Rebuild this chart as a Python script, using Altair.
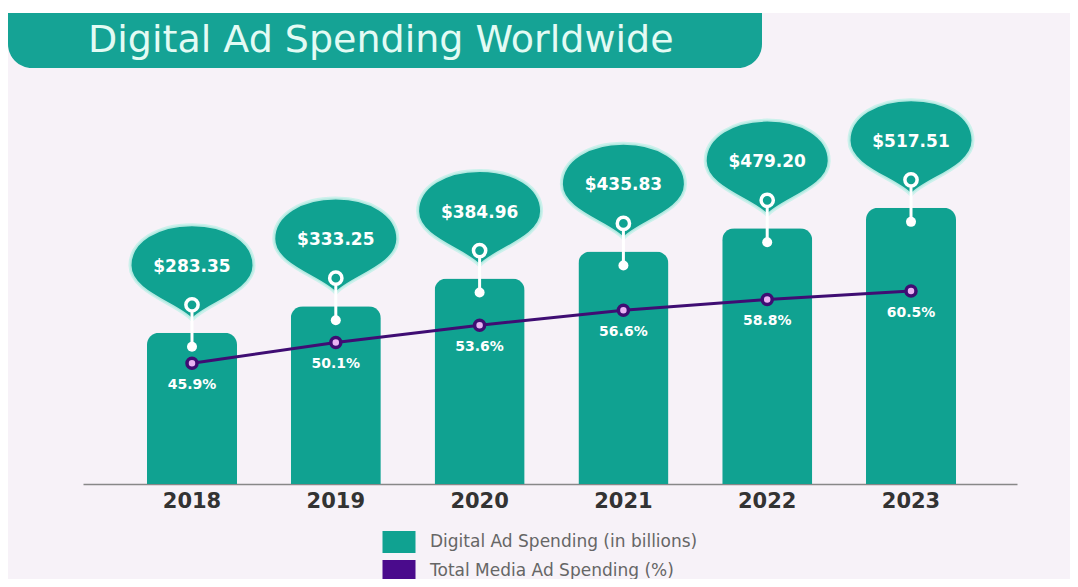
import altair as alt
import pandas as pd

years = ["2018", "2019", "2020", "2021", "2022", "2023"]
spend = [283.35, 333.25, 384.96, 435.83, 479.20, 517.51]
share = [45.9, 50.1, 53.6, 56.6, 58.8, 60.5]
series_names = ["Digital Ad Spending (in billions)", "Total Media Ad Spending (%)"]
title_text = "Digital Ad Spending Worldwide"

TEAL = "#10a291"
PURPLE = "#3f0d73"
BG = "#f7f2f8"

df = pd.DataFrame({
    "year": years,
    "spend": spend,
    "share": share,
    "series": [series_names[0]] * len(years),
})
title_df = pd.DataFrame({"t": [title_text]})

X = alt.X(
    "year:N",
    sort=years,
    scale=alt.Scale(paddingInner=0.374, paddingOuter=0.4345, align=0.512),
    axis=alt.Axis(
        title=None, labelAngle=0, labelFont="DejaVu Sans", labelFontWeight="bold",
        labelFontSize=21, labelColor="#333333", ticks=False, domainColor="#888888",
        domainWidth=1.5, labelPadding=6, grid=False,
    ),
)
YS = alt.Y("spend:Q", scale=alt.Scale(domain=[0, 892], nice=False, zero=True), axis=None)
YP = alt.Y("share:Q", scale=alt.Scale(domain=[21.5, 117.7], nice=False, zero=False), axis=None)

balloon_path = ("M0,0.86 C-0.22,0.6 -1,0.42 -1,-0.02 C-1,-0.42 -0.55,-0.68 0,-0.68 "
                "C0.55,-0.68 1,-0.42 1,-0.02 C1,0.42 0.22,0.6 0,0.86 Z")

bars = alt.Chart().mark_bar(cornerRadiusTopLeft=12, cornerRadiusTopRight=12).encode(
    y=YS,
    color=alt.Color(
        "series:N",
        scale=alt.Scale(domain=series_names, range=[TEAL, "#4a0b8c"]),
        legend=alt.Legend(
            orient="none", legendX=305, legendY=523, direction="vertical", title=None,
            symbolType="M-1.5,-1H1.5V1H-1.5Z", symbolSize=484, symbolStrokeWidth=0,
            symbolOpacity=1, labelFont="DejaVu Sans", labelFontSize=17,
            labelColor="#666666", labelOffset=20, rowPadding=7, padding=0,
            labelLimit=0,
        ),
    ),
)
balloon = alt.Chart().mark_point(
    shape=balloon_path, size=15376, filled=True, fill=TEAL, fillOpacity=1,
    stroke="#c6f1ea", strokeWidth=3, strokeOpacity=0.9, opacity=1, yOffset=-66,
).encode(y=YS)
stem = alt.Chart().mark_rule(color="white", strokeWidth=3, yOffset=-22, y2Offset=14).encode(
    y=YS, y2="spend:Q"
)
ring = alt.Chart().mark_point(
    shape="circle", size=150, filled=True, fill=TEAL, stroke="white", strokeWidth=3.5,
    opacity=1, yOffset=-28,
).encode(y=YS)
dot = alt.Chart().mark_point(
    shape="circle", size=100, filled=True, fill="white", opacity=1, yOffset=14,
).encode(y=YS)
vtext = alt.Chart().mark_text(
    font="DejaVu Sans", fontWeight="bold", fontSize=17, color="white", dy=-66,
    baseline="middle",
).encode(y=YS, text=alt.Text("spend:Q", format="$.2f"))

spend_layer = alt.layer(bars, balloon, stem, ring, dot, vtext, data=df).encode(x=X)

line = alt.Chart().mark_line(color=PURPLE, strokeWidth=3).encode(y=YP)
pts = alt.Chart().mark_point(
    shape="circle", size=100, filled=True, fill="#eab3f3", stroke=PURPLE, strokeWidth=3.5,
    opacity=1,
).encode(y=YP)
ptxt = alt.Chart().transform_calculate(
    lab="format(datum.share, '.1f') + '%'"
).mark_text(
    font="DejaVu Sans", fontWeight="bold", fontSize=14, color="white", dy=22,
    baseline="middle",
).encode(y=YP, text="lab:N")

pct_layer = alt.layer(line, pts, ptxt, data=df).encode(x=X)

top_strip = alt.Chart().mark_rect(color="white").encode(
    x=alt.value(-75), x2=alt.value(987), y=alt.value(0), y2=alt.value(5)
)
banner = alt.Chart().mark_rect(color="#15a395", cornerRadius=24).encode(
    x=alt.value(-75), x2=alt.value(679), y=alt.value(5), y2=alt.value(60)
)
banner_top = alt.Chart().mark_rect(color="#15a395").encode(
    x=alt.value(-75), x2=alt.value(679), y=alt.value(5), y2=alt.value(35)
)
ttl = alt.Chart().mark_text(
    font="DejaVu Sans", fontSize=38, color="#e3fbf4", align="left", baseline="middle",
).encode(x=alt.value(5), y=alt.value(33), text="t:N")
deco = alt.layer(top_strip, banner, banner_top, ttl, data=title_df)

chart = alt.layer(deco, spend_layer, pct_layer).resolve_scale(
    y="independent"
).properties(
    width=934, height=476, autosize="none",
    padding={"left": 75, "top": 0, "right": 53, "bottom": 95},
    background=BG,
).configure_view(stroke=None)

chart.save("out.html", embed_options={"renderer": "svg", "actions": False})
